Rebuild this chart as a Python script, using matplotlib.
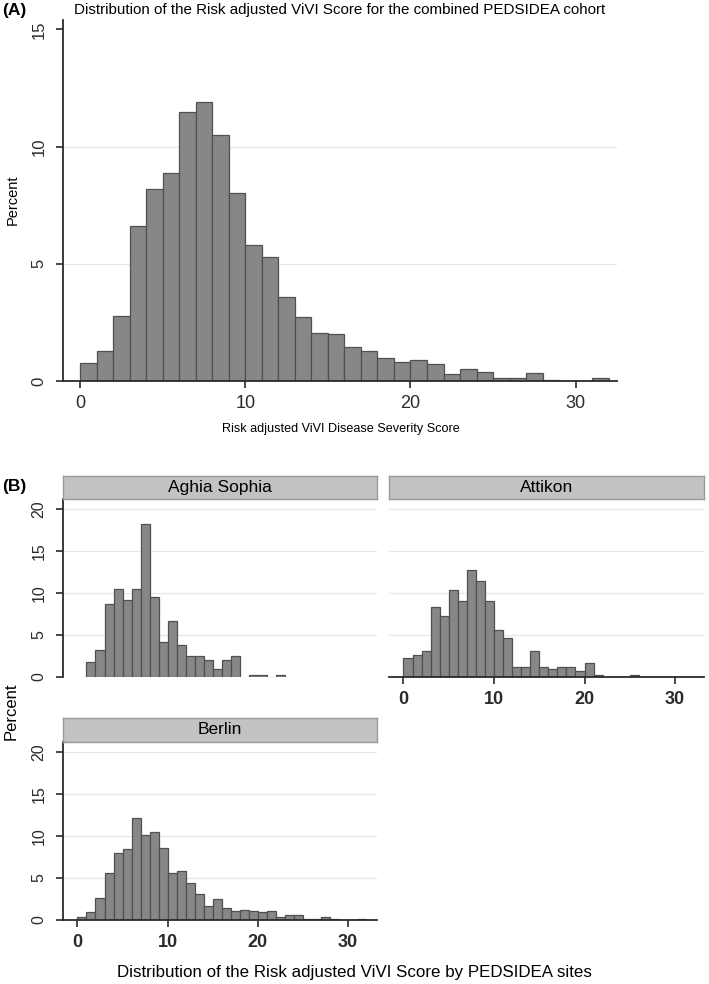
import matplotlib
matplotlib.use("Agg")
import matplotlib.pyplot as plt
import numpy as np

plt.rcParams['font.family'] = ['Liberation Sans', 'DejaVu Sans']

# percent per unit-width bin, bins start at 0
combined = [0.76, 1.29, 2.79, 6.6, 8.2, 8.87, 11.47, 11.9, 10.5, 8.0, 5.79, 5.31, 3.6, 2.75,
            2.04, 2.0, 1.44, 1.26, 0.99, 0.82, 0.91, 0.72, 0.31, 0.52, 0.38, 0.13, 0.13,
            0.33, 0.04, 0, 0, 0.13]
aghia = [0, 1.79, 3.17, 8.73, 10.5, 9.2, 10.5, 18.25, 9.48, 4.2, 6.7, 3.8, 2.46, 2.46, 2.0,
         1.0, 2.0, 2.46, 0, 0.28, 0.28, 0, 0.28]
attikon = [2.3, 2.66, 3.06, 8.33, 7.3, 10.4, 9.0, 12.7, 11.4, 9.0, 5.63, 4.64, 1.23, 1.23,
           3.06, 1.23, 0.95, 1.23, 1.23, 0.67, 1.63, 0.28, 0, 0, 0, 0.28]
berlin = [0.4, 0.91, 2.58, 5.56, 7.94, 8.45, 12.2, 10.16, 10.5, 8.6, 5.56, 5.8, 4.4, 3.1, 1.7,
          2.46, 1.43, 1.07, 1.19, 1.07, 0.95, 1.03, 0.4, 0.6, 0.6, 0.12, 0.12, 0.4, 0.12,
          0.04, 0.04, 0.12]
sites = ['Aghia Sophia', 'Attikon', 'Berlin']
xticks = [0, 10, 20, 30]

W, H = 709, 984
fig = plt.figure(figsize=(W / 100, H / 100), dpi=100)

FACE = '#878787'
EDGE = '#505050'
AXC = '#2b2b2b'
GRID = '#e6e6e6'


def box(left, top, right, bottom):
    return [left / W, 1 - bottom / H, (right - left) / W, (bottom - top) / H]


def bars(ax, heights):
    h = np.array(heights, dtype=float)
    x = np.arange(len(h))
    keep = h > 0
    ax.bar(x[keep], h[keep], width=1, align='edge', color=FACE, edgecolor=EDGE,
           linewidth=0.9, zorder=2)


def style(ax, show_y=True, show_x=True):
    for s in ['top', 'right']:
        ax.spines[s].set_visible(False)
    ax.spines['left'].set_visible(show_y)
    ax.spines['bottom'].set_visible(show_x)
    for s in ['left', 'bottom']:
        ax.spines[s].set_color(AXC)
        ax.spines[s].set_linewidth(1.3)
    ax.tick_params(colors=AXC, width=1.2, length=5)


# ---- panel A ----
axA = fig.add_axes(box(63, 20, 617, 381))
bars(axA, combined)
axA.set_xlim(-1.03, 32.5)
axA.set_ylim(0, 15.4)
axA.set_yticks([0, 5, 10, 15])
axA.set_xticks(xticks)
for g in [5, 10]:
    axA.axhline(g, color=GRID, lw=0.9, zorder=0)
style(axA)
axA.tick_params(axis='y', labelsize=12, pad=7)
axA.tick_params(axis='x', labelsize=13, pad=5)
for t in axA.get_yticklabels():
    t.set_rotation(90)
    t.set_va('center')
fig.text(340 / W, 1 - 10 / H,
         'Distribution of the Risk adjusted ViVI Score for the combined PEDSIDEA cohort',
         ha='center', va='center', fontsize=10.9)
fig.text(341 / W, 1 - 429 / H, 'Risk adjusted ViVI Disease Severity Score',
         ha='center', va='center', fontsize=9.1)
fig.text(13 / W, 1 - 200 / H, 'Percent', rotation=90, ha='center', va='center',
         fontsize=10.5)
fig.text(2 / W, 1 - 10 / H, '(A)', ha='left', va='center', fontsize=12.5, fontweight='bold')

# ---- panel B ----
layout = [
    (sites[0], aghia, 63, 377, 476, 499, 677, True, False),
    (sites[1], attikon, 389, 704, 476, 499, 677, False, True),
    (sites[2], berlin, 63, 377, 718, 742, 920, True, True),
]
for name, vals, l, r, st, t, b, yax, xax in layout:
    ax = fig.add_axes(box(l, t, r, b))
    bars(ax, vals)
    ax.set_xlim(-1.6, 33.2)
    ax.set_ylim(0, 21.2)
    for g in [0, 5, 10, 15, 20]:
        ax.axhline(g, color=GRID, lw=0.9, zorder=0)
    style(ax, show_y=yax, show_x=xax)
    ax.set_yticks([0, 5, 10, 15, 20] if yax else [])
    ax.set_xticks(xticks if xax else [])
    ax.tick_params(axis='y', labelsize=11.5, pad=7)
    ax.tick_params(axis='x', labelsize=13, pad=5)
    for lab in ax.get_yticklabels():
        lab.set_rotation(90)
        lab.set_va('center')
    for lab in ax.get_xticklabels():
        lab.set_fontweight('bold')
    sax = fig.add_axes(box(l, st, r, t))
    sax.set_xticks([])
    sax.set_yticks([])
    sax.set_facecolor('#c2c2c2')
    for s in sax.spines.values():
        s.set_color('#9a9a9a')
        s.set_linewidth(1.0)
    sax.text(0.5, 0.5, name, ha='center', va='center', fontsize=12.5,
             transform=sax.transAxes)

fig.text(2 / W, 1 - 487 / H, '(B)', ha='left', va='center', fontsize=12.5, fontweight='bold')
fig.text(11 / W, 1 - 711 / H, 'Percent', rotation=90, ha='center', va='center',
         fontsize=12)
fig.text(354 / W, 1 - 973 / H, 'Distribution of the Risk adjusted ViVI Score by PEDSIDEA sites',
         ha='center', va='center', fontsize=12.2)

fig.savefig('out.png', dpi=100, facecolor='white')
